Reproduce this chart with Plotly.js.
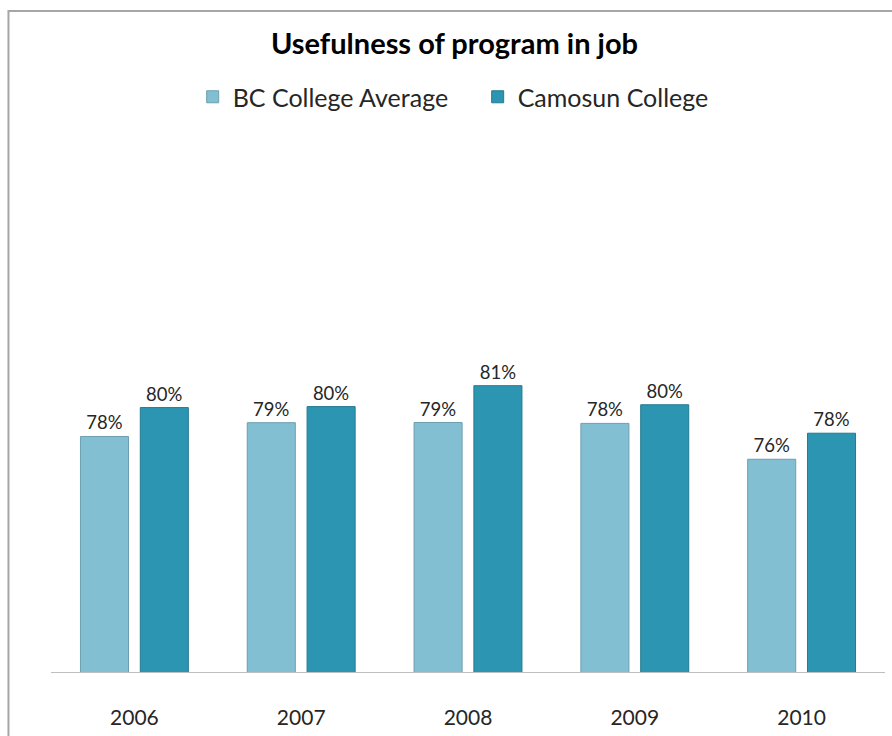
<!DOCTYPE html>
<html>
<head>
<meta charset="utf-8">
<script src="https://cdn.plot.ly/plotly-3.0.1.min.js"></script>
<style>html,body{margin:0;padding:0;background:#fff;}#chart{width:892px;height:736px;}</style>
</head>
<body>
<div id="chart"></div>
<script>
const years = ['2006', '2007', '2008', '2009', '2010'];
const bcAverage = [0.7755, 0.7852, 0.7853, 0.7847, 0.7595];
const camosun = [0.7958, 0.7965, 0.8112, 0.7978, 0.7778];
const seriesNames = ['BC College Average', 'Camosun College'];
const chartTitle = 'Usefulness of program in job';

const FONT = 'Lato, "Open Sans", sans-serif';
const textColor = '#262626';

const traces = [
  {
    type: 'bar', name: seriesNames[0], x: years, y: bcAverage,
    marker: {color: '#82bfd3', line: {color: '#6c9fb0', width: 1}},
    texttemplate: '%{y:.0%}', textposition: 'outside', cliponaxis: false,
    textfont: {family: FONT, size: 18.5, color: textColor},
    hoverinfo: 'x+y'
  },
  {
    type: 'bar', name: seriesNames[1], x: years, y: camosun,
    marker: {color: '#2c95b2', line: {color: '#237a91', width: 1}},
    texttemplate: '%{y:.0%}', textposition: 'outside', cliponaxis: false,
    textfont: {family: FONT, size: 18.5, color: textColor},
    hoverinfo: 'x+y'
  }
];

const layout = {
  width: 892, height: 736,
  margin: {l: 51, r: 7, t: 117, b: 64, pad: 0},
  paper_bgcolor: '#ffffff', plot_bgcolor: '#ffffff',
  font: {family: FONT, color: textColor},
  title: {text: '<b>' + chartTitle + '</b>', x: 0.5095, xref: 'container', xanchor: 'center',
          y: 0.940, yref: 'container', yanchor: 'middle',
          font: {family: FONT, size: 29, color: '#000000'}},
  barmode: 'group', bargap: 0.2826, bargroupgap: 0.197,
  showlegend: true,
  legend: {orientation: 'h', x: 0.5116, xanchor: 'center', y: 1.036, yanchor: 'middle',
           font: {family: FONT, size: 25, color: textColor}, traceorder: 'normal',
           itemwidth: 30, entrywidth: 240, entrywidthmode: 'pixels', bgcolor: 'rgba(0,0,0,0)'},
  xaxis: {type: 'category', showline: true, linecolor: '#bfbfbf', linewidth: 1,
          ticks: '', showgrid: false, zeroline: false, ticklabelstandoff: 27,
          tickfont: {family: FONT, size: 21, color: textColor}, fixedrange: true},
  yaxis: {range: [0.61, 1.0], visible: false, showgrid: false, zeroline: false, fixedrange: true},
  shapes: [
    {type: 'rect', xref: 'paper', yref: 'paper', x0: -0.051, x1: 1.2, y0: -0.3, y1: 1.191,
     line: {color: '#a6a6a6', width: 2}, fillcolor: 'rgba(0,0,0,0)', layer: 'below'}
  ]
};

Plotly.newPlot('chart', traces, layout, {displayModeBar: false, staticPlot: true});
</script>
</body>
</html>
